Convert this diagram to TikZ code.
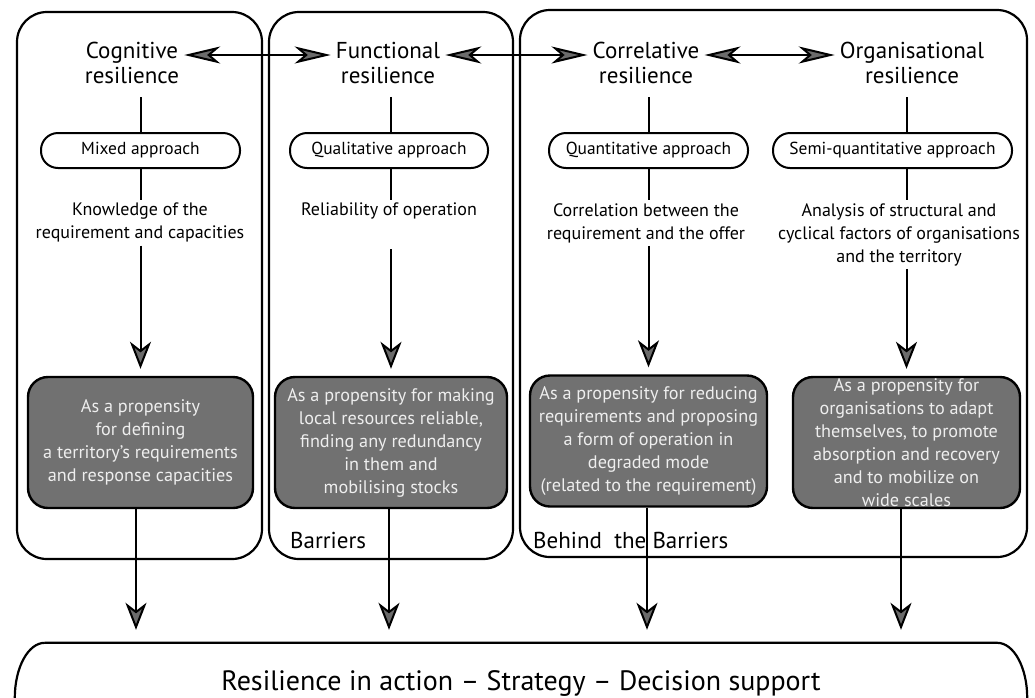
\documentclass[tikz,border=0pt]{standalone}
\usepackage{fontspec}
\setmainfont{PT Sans}
\usetikzlibrary{arrows.meta,calc}
\definecolor{boxgrey}{HTML}{717171}
\definecolor{tipgrey}{HTML}{6B6B6B}
\definecolor{greytext}{HTML}{EEEEEE}
\begin{document}
\begin{tikzpicture}[x=1pt,y=-1pt,
  frame/.style={draw, line width=2.2pt, rounded corners=30pt},
  title/.style={align=center, font=\fontsize{23}{25}\selectfont, inner xsep=5pt, inner ysep=13pt},
  approach/.style={draw, line width=2pt, rounded corners=17pt, minimum height=35pt, font=\fontsize{17.4}{20}\selectfont, inner sep=0pt},
  descr/.style={align=center, anchor=north, font=\fontsize{18}{23}\selectfont, inner ysep=3pt},
  greybox/.style={draw, fill=boxgrey, line width=2.4pt, rounded corners=20pt, text=greytext, align=center, font=\fontsize{18.2}{23}\selectfont, minimum height=131pt},
  zone/.style={anchor=west, font=\fontsize{23}{25}\selectfont, inner sep=0pt},
  conn/.style={line width=2pt},
  downarrow/.style={conn, -{Stealth[length=27pt,width=21pt,inset=8pt,fill=tipgrey]}},
  twoway/.style={conn, {Stealth[length=36pt,width=17pt,inset=10pt,fill=tipgrey]}-{Stealth[length=36pt,width=17pt,inset=10pt,fill=tipgrey]}}
]
\useasboundingbox (0,0) rectangle (1035,697);
\clip (0,0) rectangle (1035,697);

% frames
\draw[frame] (17,12) rectangle (262,559);
\draw[frame] (269,12) rectangle (513,559);
\draw[frame] (520,10) rectangle (1027,557);

% titles
\node[title] (t1) at (132,63) {Cognitive\\resilience};
\node[title] (t2) at (388,63) {Functional\\resilience};
\node[title] (t3) at (646,63) {Correlative\\resilience};
\node[title] (t4) at (912,63) {Organisational\\resilience};

\draw[twoway] ([yshift=8pt]t1.east) -- ([yshift=8pt]t2.west);
\draw[twoway] ([yshift=8pt]t2.east) -- ([yshift=8pt]t3.west);
\draw[twoway] ([yshift=8pt]t3.east) -- ([yshift=8pt]t4.west);

% approaches
\node[approach, minimum width=199pt] (a1) at (140.5,150.5) {Mixed approach};
\node[approach, minimum width=198pt] (a2) at (389,150.5) {Qualitative approach};
\node[approach, minimum width=199pt] (a3) at (648.5,150.5) {Quantitative approach};
\node[approach, minimum width=239pt] (a4) at (892.5,150.5) {Semi-quantitative approach};

% descriptions
\node[descr] (d1) at (140,200) {Knowledge of the\\requirement and capacities};
\node[descr] (d2) at (389,200) {Reliability of operation\\\strut};
\node[descr] (d3) at (646,200) {Correlation between the\\requirement and the offer};
\node[descr] (d4) at (899,200) {Analysis of structural and\\cyclical factors of organisations\\and the territory};

% grey boxes
\node[greybox, minimum width=225pt] (g1) at (140.5,442.5) {As a propensity\\for defining\\a territory’s requirements\\and response capacities};
\node[greybox, minimum width=232pt] (g2) at (391,442.5) {As a propensity for making\\local resources reliable,\\finding any redundancy\\in them and\\mobilising stocks};
\node[greybox, minimum width=237pt] (g3) at (648.5,441) {As a propensity for reducing\\requirements and proposing\\a form of operation in\\degraded mode\\(related to the requirement)};
\node[greybox, minimum width=227pt, inner ysep=0pt] (g4) at (906.5,442.5) {As a propensity for\\organisations to adapt\\themselves, to promote\\absorption and recovery\\and to mobilize on\\wide scales};

% zone labels
\node[zone] (z1) at (290,540) {Barriers};
\node[zone] (z2) at (533,540) {Behind~~the Barriers};

% bottom
\node[minimum width=1012pt, minimum height=80pt, inner sep=0pt, font=\fontsize{28}{31}\selectfont] (bot) at (521,683) {Resilience in action – Strategy – Decision support};
\draw[line width=2.2pt] ([xshift=30pt]bot.north west) -- ([xshift=-30pt]bot.north east)
   arc[start angle=90,end angle=0,x radius=30pt,y radius=55pt] -- ++(0,-20pt);
\draw[line width=2.2pt] ([xshift=30pt]bot.north west)
   arc[start angle=90,end angle=180,x radius=30pt,y radius=55pt] -- ++(0,-20pt);

% column connectors
\foreach \i in {1,2,3,4}{
  \draw[conn] (t\i.south -| g\i.north) -- (a\i.north -| g\i.north);
  \draw[conn] (a\i.south -| g\i.north) -- (d\i.north -| g\i.north);
  \draw[downarrow, shorten >=7pt] (d\i.south -| g\i.north) -- (g\i.north);
}
\foreach \i/\s in {1/-4.5,2/-2,3/-1.5,4/-5.5}{
  \draw[downarrow, shorten >=13pt] ($(g\i.south)+(\s,0)$) -- ($(bot.north -| g\i.south)+(\s,0)$);
}
\end{tikzpicture}
\end{document}
